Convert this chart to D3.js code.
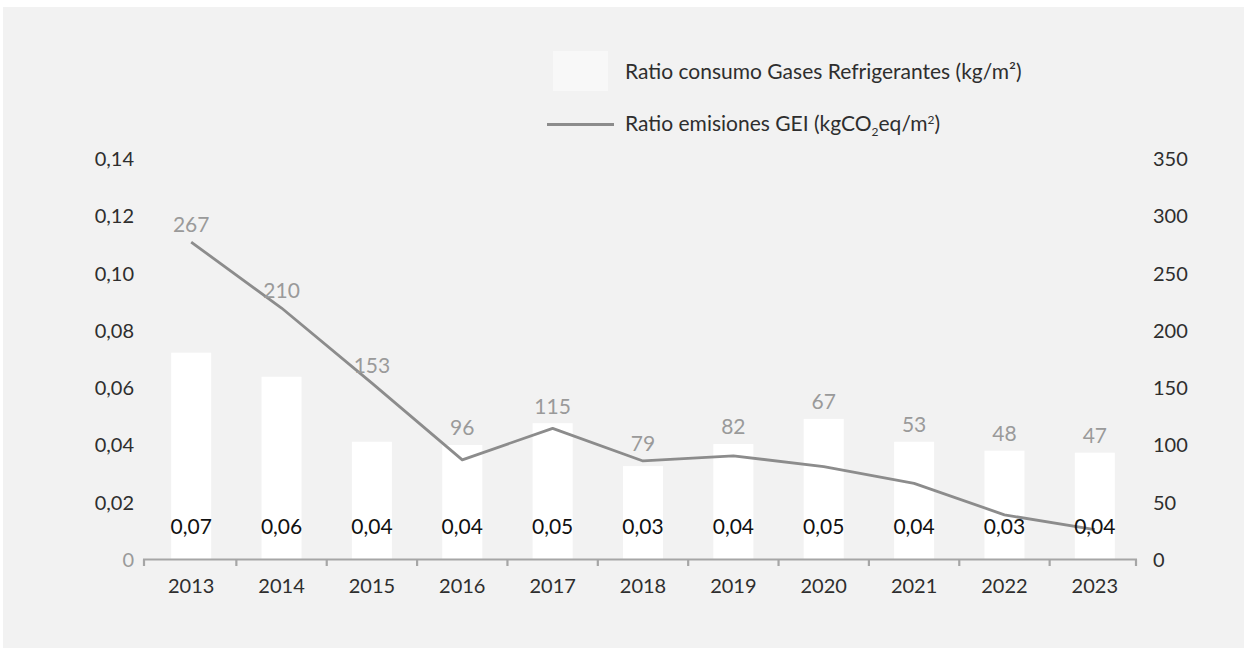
<!DOCTYPE html>
<html>
<head>
<meta charset="utf-8">
<script src="https://cdn.jsdelivr.net/npm/d3@7"></script>
<style>
  html, body { margin: 0; padding: 0; background: #ffffff; }
  svg { display: block; font-family: Lato, "Open Sans", sans-serif; }
</style>
</head>
<body>
<svg id="chart" width="1244" height="650"></svg>
<script>
// ---- data ----
const years = ["2013","2014","2015","2016","2017","2018","2019","2020","2021","2022","2023"];
// Ratio consumo Gases Refrigerantes (kg/m²) - bar heights
const refrigerantes = [0.0722, 0.0638, 0.0411, 0.0400, 0.0476, 0.0326, 0.0403, 0.0491, 0.0411, 0.0380, 0.0373];
const refrigerantesLabels = ["0,07","0,06","0,04","0,04","0,05","0,03","0,04","0,05","0,04","0,03","0,04"];
// Ratio emisiones GEI (kgCO2eq/m2) - line as plotted
const emisiones = [277, 219.5, 154, 87, 114.5, 86, 90.5, 81, 66.5, 39, 26];
const emisionesLabels = ["267","210","153","96","115","79","82","67","53","48","47"];
const leftTicks = [0, 0.02, 0.04, 0.06, 0.08, 0.10, 0.12, 0.14];
const leftTickLabels = ["0","0,02","0,04","0,06","0,08","0,10","0,12","0,14"];
const rightTicks = [0, 50, 100, 150, 200, 250, 300, 350];
const legendBar = "Ratio consumo Gases Refrigerantes (kg/m²)";

// ---- layout ----
const svg = d3.select("#chart");
const baseY = 559.5, topY = 158.5;
const x = d3.scaleBand().domain(years).range([146, 1140]).paddingInner(0.557).paddingOuter(0.2785);
const yL = d3.scaleLinear().domain([0, 0.14]).range([baseY, topY]);
const yR = d3.scaleLinear().domain([0, 350]).range([baseY, topY]);
const fontSize = 20;
const txt = "#2e2e2e";

// panel
svg.append("rect").attr("x", 3).attr("y", 7).attr("width", 1241).attr("height", 641).attr("fill", "#f2f2f2");

// bars
svg.append("g").selectAll("rect").data(years).join("rect")
  .attr("x", d => x(d))
  .attr("y", (d, i) => yL(refrigerantes[i]))
  .attr("width", x.bandwidth())
  .attr("height", (d, i) => baseY - yL(refrigerantes[i]))
  .attr("fill", "#ffffff");

// left axis labels
const leftAxis = d3.axisLeft(yL).tickValues(leftTicks).tickSize(0).tickPadding(0)
  .tickFormat((d, i) => leftTickLabels[i]);
const gL = svg.append("g").attr("transform", "translate(134,0)").call(leftAxis);
gL.select(".domain").remove();
gL.selectAll("text").attr("font-size", fontSize).attr("font-family", "Lato")
  .attr("fill", (d, i) => i === 0 ? "#9a9a9a" : txt).attr("dy", "0.35em");

// right axis labels
const rightAxis = d3.axisRight(yR).tickValues(rightTicks).tickSize(0).tickPadding(0);
const gR = svg.append("g").attr("transform", "translate(1153,0)").call(rightAxis);
gR.select(".domain").remove();
gR.selectAll("text").attr("font-size", fontSize).attr("font-family", "Lato")
  .attr("fill", txt).attr("dy", "0.35em");

// bottom axis
const step = x.step();
const x0 = x(years[0]) - (step - x.bandwidth()) / 2;
const boundaries = d3.range(years.length + 1).map(i => x0 + i * step);
const gB = svg.append("g");
gB.append("line").attr("x1", 143).attr("x2", 1137).attr("y1", baseY).attr("y2", baseY)
  .attr("stroke", "#a6a6a6").attr("stroke-width", 2.2);
gB.selectAll("line.tick").data(boundaries).join("line").attr("class", "tick")
  .attr("x1", (d, i) => i === 0 ? 144 : (i === years.length ? 1136 : d))
  .attr("x2", (d, i) => i === 0 ? 144 : (i === years.length ? 1136 : d))
  .attr("y1", baseY).attr("y2", baseY + 6.5)
  .attr("stroke", "#a6a6a6").attr("stroke-width", 2.2);
const bottomAxis = d3.axisBottom(x).tickSize(0).tickPadding(0);
const gX = svg.append("g").attr("transform", `translate(0,${baseY + 26})`).call(bottomAxis);
gX.select(".domain").remove();
gX.selectAll("text").attr("font-size", fontSize).attr("font-family", "Lato")
  .attr("fill", txt).attr("dy", "0.35em");

// line
const line = d3.line().x((d, i) => x(years[i]) + x.bandwidth() / 2).y(d => yR(d));
svg.append("path").datum(emisiones).attr("d", line)
  .attr("fill", "none").attr("stroke", "#8c8c8c").attr("stroke-width", 2.8)
  .attr("stroke-linejoin", "round");

// bar value labels
svg.append("g").selectAll("text").data(years).join("text")
  .attr("x", d => x(d) + x.bandwidth() / 2)
  .attr("y", baseY - 33)
  .attr("dy", "0.35em")
  .attr("text-anchor", "middle")
  .attr("font-size", fontSize + 1)
  .attr("fill", "#111")
  .text((d, i) => refrigerantesLabels[i]);

// line value labels
svg.append("g").selectAll("text").data(years).join("text")
  .attr("x", d => x(d) + x.bandwidth() / 2)
  .attr("y", (d, i) => Math.min(yR(emisiones[i]), yL(refrigerantes[i])) - 17)
  .attr("dy", "0.35em")
  .attr("text-anchor", "middle")
  .attr("font-size", fontSize + 1)
  .attr("fill", "#9a9a9a")
  .text((d, i) => emisionesLabels[i]);

// legend
const lg = svg.append("g");
lg.append("rect").attr("x", 553).attr("y", 51).attr("width", 55).attr("height", 40).attr("fill", "#f8f8f8");
lg.append("text").attr("x", 625).attr("y", 72).attr("dy", "0.35em")
  .attr("font-size", fontSize + 1).attr("fill", txt).text(legendBar);
lg.append("line").attr("x1", 547).attr("x2", 614).attr("y1", 124.5).attr("y2", 124.5)
  .attr("stroke", "#8c8c8c").attr("stroke-width", 2.8);
const t2 = lg.append("text").attr("x", 625).attr("y", 124).attr("dy", "0.35em")
  .attr("font-size", fontSize + 1).attr("fill", txt);
t2.append("tspan").text("Ratio emisiones GEI (kgCO");
t2.append("tspan").attr("font-size", 12).attr("dy", 5).text("2");
t2.append("tspan").attr("dy", -5).text("eq/m");
t2.append("tspan").attr("font-size", 12).attr("dy", -7).text("2");
t2.append("tspan").attr("dy", 7).text(")");
</script>
</body>
</html>
